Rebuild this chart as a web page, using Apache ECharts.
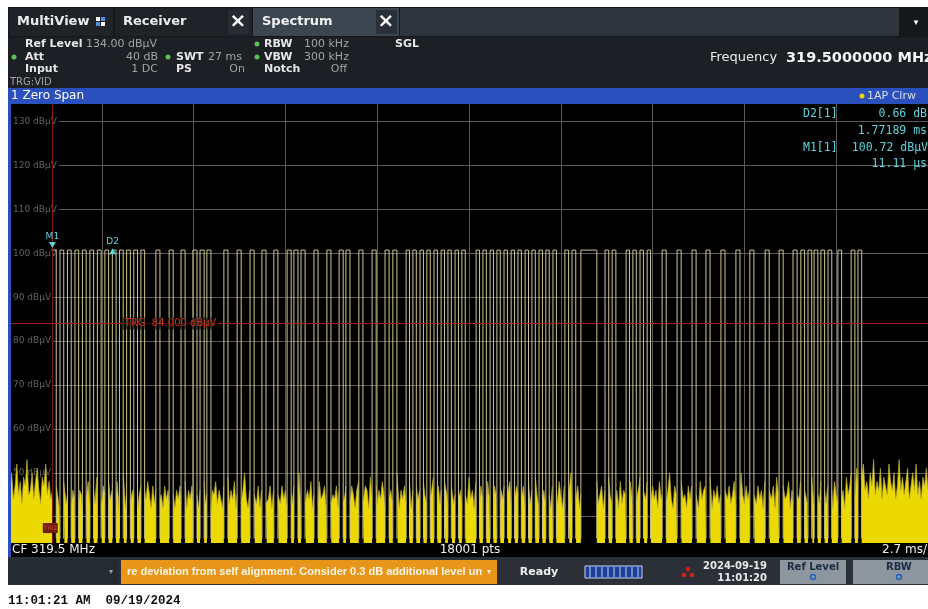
<!DOCTYPE html>
<html><head><meta charset="utf-8">
<script src="https://cdn.jsdelivr.net/npm/echarts@6/dist/echarts.min.js"></script>
<style>html,body{margin:0;padding:0;background:#fff;}#c{width:928px;height:609px;}</style>
</head><body><div id="c"></div>
<script>
// ---- axis / sweep settings ----
const sweepMs = 27;            // SWT 27 ms, 2.7 ms/div
const divMs = 2.7;
const refLevel = 134;          // Ref Level 134.00 dBuV
const bottomLevel = 34;        // 10 div x 10 dB below ref
const yTicks = [40, 50, 60, 70, 80, 90, 100, 110, 120, 130];
const trgTimeMs = 1.235;       // trigger position (pre-trigger)
const trgLevel = 84;           // TRG 84.000 dBuV
// ---- trace: pulse train ----
const pulseHigh = 100.72;
const pulseLow = 35;
const pulseStartMs = [
  1.25,1.47,1.69,1.91,2.13,2.35,2.57,2.79,3.01,3.22,3.43,3.64,3.85,
  4.29,4.68,5.03,5.38,5.59,5.79,6.29,6.68,7.06,7.41,7.76,8.15,8.35,8.56,8.94,9.32,9.68,9.88,10.26,10.65,11.03,11.26,
  11.65,11.85,12.06,12.26,12.47,12.68,12.88,13.09,13.29,
  13.71,13.91,14.12,14.32,14.53,14.74,14.94,15.15,15.35,15.56,15.76,15.97,
  16.32,16.53,
  16.79,
  17.50,17.71,
  18.12,18.32,18.53,18.74,
  19.18,19.62,20.06,20.47,20.91,21.35,21.76,22.21,22.62,23.03,
  23.26,23.47,23.65,23.85,24.06,24.35,24.74,24.94
];
const pulseWidthMs = [
  0.11,0.11,0.11,0.11,0.11,0.11,0.11,0.11,0.11,0.11,0.11,0.11,0.11,
  0.12,0.12,0.12,0.12,0.12,0.12,0.12,0.12,0.12,0.12,0.12,0.12,0.12,0.12,0.12,0.12,0.12,0.12,0.12,0.12,0.12,0.12,
  0.10,0.10,0.10,0.10,0.10,0.10,0.10,0.10,0.10,
  0.10,0.10,0.10,0.10,0.10,0.10,0.10,0.10,0.10,0.10,0.10,0.10,
  0.11,0.11,
  0.47,
  0.11,0.11,
  0.10,0.10,0.10,0.10,
  0.12,0.12,0.12,0.12,0.12,0.12,0.12,0.12,0.12,0.12,
  0.11,0.11,0.11,0.11,0.11,0.11,0.11,0.11
];
// ---- trace: noise floor peaks, one reading every 0.05 ms ----
const noiseStepMs = 0.05;
const noiseDb = [
  46,50,44,47,52,45,48,43,49,47,53,45,46,50,44,48,51,46,43,49,
  47,52,45,48,44,46,43,47,45,42,46,44,48,43,45,47,42,46,44,49,
  43,46,45,41,47,44,48,42,45,46,43,49,44,46,42,47,45,43,48,44,
  46,42,45,48,43,46,44,50,42,45,47,43,46,44,48,41,45,47,43,46,
  44,48,45,42,47,43,46,49,44,45,42,47,44,46,43,48,45,42,46,44,
  47,43,45,48,42,46,44,47,43,49,45,42,46,44,48,43,45,47,41,46,
  45,48,43,46,44,42,47,45,49,43,46,44,48,42,45,47,43,46,50,44,
  42,46,44,48,45,43,47,42,46,45,49,43,44,47,42,46,48,44,45,43,
  47,44,46,42,48,45,43,47,44,46,50,42,45,47,43,46,44,48,42,45,
  46,43,48,44,45,47,42,46,49,43,45,44,47,42,46,48,43,45,47,44,
  43,47,45,42,46,48,44,45,43,47,46,42,49,44,45,47,43,46,44,48,
  45,42,47,44,46,43,48,45,50,42,46,44,47,43,45,48,42,46,44,47,
  44,46,42,48,45,43,47,44,46,49,42,45,47,43,46,44,48,45,42,46,
  47,43,45,48,44,46,42,47,45,43,49,44,46,42,48,45,43,47,44,46,
  42,48,44,46,43,47,45,50,42,46,44,47,43,45,48,42,46,44,47,45,
  46,44,47,42,45,48,43,46,44,49,45,42,47,44,46,43,48,45,42,47,
  44,46,43,48,45,42,47,44,46,45,50,43,46,44,47,42,45,48,43,46,
  45,47,42,46,44,48,43,45,47,42,46,44,49,45,43,47,44,46,42,48,
  43,46,45,47,42,48,44,46,43,45,47,49,42,46,44,48,45,43,47,44,
  46,42,48,44,45,47,43,46,50,44,42,47,45,46,43,48,44,45,42,47,
  44,47,43,46,45,42,48,44,46,47,43,45,49,42,46,44,47,43,45,48,
  42,46,44,47,43,45,48,42,46,44,50,45,43,47,44,46,42,48,45,43,
  47,44,46,42,48,45,43,46,44,47,42,49,45,46,43,47,44,45,48,42,
  46,43,47,45,44,48,42,46,45,43,47,44,49,42,46,45,43,48,44,46,
  43,47,44,46,42,48,45,43,47,44,46,42,49,45,47,50,46,44,51,47,
  45,49,52,46,48,44,50,47,53,45,48,46,51,44,49,47,45,52,48,46,
  50,44,47,53,46,49,45,48,51,44,47,50,46,52,45,48,44,49,47,51,
  46
];
// ---- markers ----
const m1TimeUs = 11.11;
const m1Level = 100.72;
const d2DeltaMs = 1.77189;
const d2DeltaDb = 0.66;

// ---- build series data from the arrays ----
function noiseAt(t) {
  const i = Math.min(noiseDb.length - 1, Math.max(0, Math.round(t / noiseStepMs)));
  return noiseDb[i];
}
const noiseData = [];
function pushLow(a, b) {
  if (b <= a) return;
  noiseData.push([a, noiseAt(a)]);
  for (let i = Math.floor(a / noiseStepMs + 1e-9) + 1; i < noiseDb.length && i * noiseStepMs < b - 1e-9; i++) {
    noiseData.push([+(i * noiseStepMs).toFixed(3), noiseDb[i]]);
  }
  noiseData.push([b, noiseAt(b)]);
  noiseData.push([b, '-']);
}
const pulseData = [];
let prevEnd = 0;
pulseStartMs.forEach((s, k) => {
  const e = +(s + pulseWidthMs[k]).toFixed(3);
  pushLow(prevEnd, s);
  pulseData.push([s, pulseLow], [s, pulseHigh], [e, pulseHigh], [e, pulseLow], [e, '-']);
  prevEnd = e;
});
pushLow(prevEnd, sweepMs);

const m1Time = trgTimeMs + m1TimeUs / 1000;
const d2Time = m1Time + d2DeltaMs;
const d2Level = m1Level + d2DeltaDb;

// ---- chrome helpers ----
const UI = '"DejaVu Sans"';
function T(x, y, text, fill, font, align, z) {
  return { type: 'text', z: z || 60, silent: true, style: { x, y, text, fill, font,
    align: align || 'left', textAlign: align || 'left', verticalAlign: 'middle', textVerticalAlign: 'middle' } };
}
function R(x, y, w, h, fill, z) {
  return { type: 'rect', z: z || 50, silent: true, shape: { x, y, width: w, height: h }, style: { fill } };
}
function C(cx, cy, r, fill, stroke) {
  return { type: 'circle', z: 61, silent: true, shape: { cx, cy, r },
    style: stroke ? { fill: 'none', stroke, lineWidth: 1.5 } : { fill } };
}
const B = 'bold 11px ' + UI, N = '11px ' + UI;
const W = '#e6e6e6', G = '#a3a3a3', GR = '#5cbf5c', CY = '#5fd3dc';
const MONO = '11.5px "DejaVu Sans Mono"';

const elements = [
  // tab bar
  R(8, 7, 920, 30, '#15181b'),
  R(9, 8, 104, 28, '#1f2328'),
  T(17, 22, 'MultiView', '#ececec', 'bold 13px ' + UI),
  R(96, 17, 4, 4, '#ffffff'), R(101, 17, 4, 4, '#4d8fe0'), R(96, 22, 4, 4, '#4d8fe0'), R(101, 22, 4, 4, '#ffffff'),
  R(115, 8, 137, 28, '#1f2328'),
  T(123, 22, 'Receiver', '#ececec', 'bold 13px ' + UI),
  R(228, 10, 21, 24, '#272b31'),
  T(238, 22, '×', '#ffffff', 'bold 20px ' + UI, 'center'),
  R(253, 8, 146, 28, '#3c4650'),
  T(262, 22, 'Spectrum', '#f2f2f2', 'bold 13px ' + UI),
  R(376, 10, 21, 24, '#29303a'),
  T(386, 22, '×', '#ffffff', 'bold 20px ' + UI, 'center'),
  R(400, 8, 499, 28, '#2e343b'),
  T(916, 23, '▾', '#ffffff', '9px ' + UI, 'center'),
  // setting info
  R(8, 37, 920, 51, '#1c1f23'),
  T(25, 44, 'Ref Level', W, B), T(86, 44, '134.00 dBµV', G, N),
  C(257, 44, 2.5, GR), T(264, 44, 'RBW', W, B), T(304, 44, '100 kHz', G, N), T(395, 44, 'SGL', W, B),
  C(14, 57, 2.5, GR), T(25, 57, 'Att', W, B), T(158, 57, '40 dB', G, N, 'right'),
  C(168, 57, 2.5, GR), T(176, 57, 'SWT', W, B), T(208, 57, '27 ms', G, N),
  C(257, 57, 2.5, GR), T(264, 57, 'VBW', W, B), T(304, 57, '300 kHz', G, N),
  T(25, 69, 'Input', W, B), T(158, 69, '1 DC', G, N, 'right'),
  T(176, 69, 'PS', W, B), T(245, 69, 'On', G, N, 'right'),
  T(264, 69, 'Notch', W, B), T(347, 69, 'Off', G, N, 'right'),
  T(10, 82, 'TRG:VID', G, '10px ' + UI),
  T(710, 58, 'Frequency', '#ececec', '13px ' + UI),
  T(786, 58, '319.5000000 MHz', '#f4f4f4', 'bold 14.5px ' + UI),
  // window title bar
  R(8, 88, 920, 16, '#2a50bd'),
  T(11, 96, '1 Zero Span', '#ffffff', '12px ' + UI),
  C(862, 96, 2.5, '#f0d400'), T(867, 96, '1AP Clrw', '#d8dde8', '11px ' + UI),
  // marker table
  T(803, 114, 'D2[1]', CY, MONO, 'left', 70),
  T(927, 114, d2DeltaDb.toFixed(2) + ' dB', CY, MONO, 'right', 70),
  T(927, 131, d2DeltaMs.toFixed(5) + ' ms', CY, MONO, 'right', 70),
  T(803, 148, 'M1[1]', CY, MONO, 'left', 70),
  T(928, 148, m1Level.toFixed(2) + ' dBµV', CY, MONO, 'right', 70),
  T(927, 164, m1TimeUs.toFixed(2) + ' µs', CY, MONO, 'right', 70),
  // footer of diagram
  R(10, 543, 918, 14, '#000000'),
  T(12, 550, 'CF 319.5 MHz', '#f0f0f0', '12px ' + UI),
  T(470, 550, '18001 pts', '#f0f0f0', '12px ' + UI, 'center'),
  T(927, 550, (divMs) + ' ms/', '#f0f0f0', '12px ' + UI, 'right'),
  // status bar
  R(8, 557, 920, 28, '#2b3037'),
  R(8, 559, 111, 25, '#262b31'),
  T(111, 572, '▾', '#9aa0a8', '8px ' + UI, 'center'),
  R(121, 560, 376, 24, '#e8961a'),
  T(127, 572, 're deviation from self alignment. Consider 0.3 dB additional level un', '#fff6e6', 'bold 11px "Liberation Sans"'),
  R(484, 560, 13, 24, '#e8961a', 55),
  T(489, 572, '▾', '#fff6e6', '8px ' + UI, 'center'),
  T(539, 572, 'Ready', '#f0f0f0', 'bold 11px ' + UI, 'center'),
  { type: 'rect', z: 61, silent: true, shape: { x: 585, y: 566, width: 57, height: 12 }, style: { fill: '#1d3f9a', stroke: '#c8d4f0', lineWidth: 1 } },
  C(684, 575, 2.3, '#d02020'), C(692, 575, 2.3, '#d02020'), C(688, 569, 2.3, '#d02020'),
  T(767, 566, '2024-09-19', '#e8e8e8', 'bold 10px ' + UI, 'right'),
  T(767, 578, '11:01:20', '#e8e8e8', 'bold 10px ' + UI, 'right'),
  R(780, 560, 66, 24, '#8d959e'),
  T(813, 567, 'Ref Level', '#1c2c44', 'bold 10px ' + UI, 'center'),
  C(813, 577, 2.5, null, '#1f62c0'),
  R(853, 560, 75, 24, '#8d959e'),
  T(899, 567, 'RBW', '#1c2c44', 'bold 10px ' + UI, 'center'),
  C(899, 577, 2.5, null, '#1f62c0'),
  // screenshot time stamp
  T(8, 601, '11:01:21 AM  09/19/2024', '#111111', 'bold 12.5px "Liberation Mono"')
];
// progress bar segments
for (let i = 0; i < 9; i++) elements.push({ type: 'line', z: 62, silent: true,
  shape: { x1: 590 + i * 6, y1: 567, x2: 590 + i * 6, y2: 577 }, style: { stroke: '#c8d4f0', lineWidth: 1 } });
// left window border drawn above the grid
elements.push({ type: 'rect', z: 80, silent: true, shape: { x: 8, y: 104, width: 3, height: 453 }, style: { fill: '#2a50bd' } });

const chart = echarts.init(document.getElementById('c'), null, { renderer: 'canvas', width: 928, height: 609 });
chart.setOption({
  backgroundColor: '#ffffff',
  animation: false,
  grid: { left: 10, right: 0, top: 104, bottom: 66, show: true, backgroundColor: '#000000', borderWidth: 0 },
  xAxis: {
    type: 'value', min: 0, max: sweepMs, interval: divMs,
    axisLine: { show: false }, axisTick: { show: false }, axisLabel: { show: false },
    splitLine: { show: true, lineStyle: { color: '#5a5a5a', width: 1 } }
  },
  yAxis: {
    type: 'value', min: bottomLevel, max: refLevel,
    axisLine: { show: false },
    axisTick: { show: false, customValues: yTicks },
    axisLabel: { show: true, inside: true, customValues: yTicks, margin: -2,
      formatter: v => v + ' dBµV', color: '#626262', fontSize: 9, fontFamily: 'DejaVu Sans',
      backgroundColor: '#000', padding: [1, 2, 1, 5] },
    splitLine: { show: true, lineStyle: { color: '#5a5a5a', width: 1 } }
  },
  series: [
    {
      name: 'noise', type: 'line', data: noiseData, z: 2,
      showSymbol: false, symbol: 'none', connectNulls: false, silent: true,
      lineStyle: { color: '#b5a73a', width: 0.7 },
      areaStyle: { color: '#ecd900', opacity: 1, origin: 'start' }
    },
    {
      name: 'trace', type: 'line', data: pulseData, z: 3,
      showSymbol: false, symbol: 'none', connectNulls: false, silent: true,
      lineStyle: { color: '#cdc48e', width: 1 },
      markLine: {
        silent: true, symbol: ['none', 'none'], label: { show: false },
        data: [
          { yAxis: trgLevel, lineStyle: { color: '#a3231a', width: 1, type: 'solid' } },
          { xAxis: trgTimeMs, lineStyle: { color: '#7e1a14', width: 1, type: 'solid' } }
        ]
      },
      markPoint: {
        silent: true,
        data: [
          { coord: [m1Time, m1Level], symbol: 'triangle', symbolRotate: 180, symbolSize: [7, 6], symbolOffset: [0, -5],
            itemStyle: { color: CY },
            label: { show: true, formatter: 'M1', position: 'top', distance: 1, color: CY, fontSize: 9, fontFamily: 'DejaVu Sans' } },
          { coord: [d2Time, d2Level], symbol: 'triangle', symbolSize: [7, 6], symbolOffset: [0, 4],
            itemStyle: { color: CY },
            label: { show: true, formatter: 'D2', position: 'top', distance: 2, color: CY, fontSize: 9, fontFamily: 'DejaVu Sans' } },
          { coord: [3.3, trgLevel], symbol: 'rect', symbolSize: 1, itemStyle: { color: 'rgba(0,0,0,0)' },
            label: { show: true, position: 'right', distance: 0, formatter: 'TRG  ' + trgLevel.toFixed(3) + ' dBµV',
              color: '#c8321e', fontSize: 10, fontFamily: 'DejaVu Sans', backgroundColor: 'rgba(0,0,0,0.55)', padding: [1, 2] } },
          { coord: [trgTimeMs - 0.05, 37.4], symbol: 'rect', symbolSize: [15, 10], itemStyle: { color: '#6e1f14' },
            label: { show: true, position: 'inside', formatter: 'TRG', color: '#d04030', fontSize: 6, fontFamily: 'DejaVu Sans' } }
        ]
      }
    }
  ],
  graphic: { elements }
});
</script></body></html>
